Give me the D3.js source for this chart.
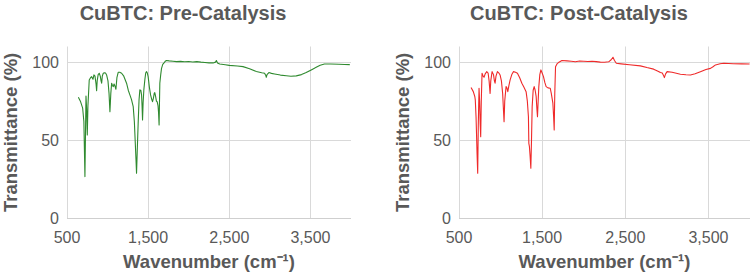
<!DOCTYPE html>
<html>
<head>
<meta charset="utf-8">
<script src="https://cdn.jsdelivr.net/npm/d3@7"></script>
<style>
  body { margin: 0; background: #fff; }
  svg { display: block; }
</style>
</head>
<body>
<div id="chart"></div>
<script>
'use strict'

// ---- data ----
const xTicks = [500, 1500, 2500, 3500]
const yTicks = [0, 50, 100]
const titles = ['CuBTC: Pre-Catalysis', 'CuBTC: Post-Catalysis']

const wnPre = [640,665,693,708,721,728,734,742,750,758,774,790,804,820,832,845,858,865,872,884,897,910,920,927,935,947,960,975,988,1005,1018,1029,1040,1050,1060,1070,1080,1092,1103,1115,1131,1150,1173,1200,1234,1255,1275,1295,1316,1330,1340,1350,1357,1365,1377,1388,1398,1410,1419,1425,1431,1438,1447,1460,1470,1480,1490,1500,1515,1530,1545,1554,1565,1575,1582,1592,1602,1611,1622,1628,1635,1640,1644,1655,1665,1680,1693,1710,1726,1760,1807,1850,1900,1950,2000,2050,2100,2150,2200,2250,2300,2330,2341,2355,2382,2450,2500,2600,2669,2750,2833,2900,2935,2950,2956,2965,2988,3020,3058,3130,3202,3260,3325,3390,3448,3510,3571,3620,3673,3750,3850,3920,3985]
const tPre = [77.5,75,70.5,62,26.7,55,78.3,70,53.4,72,88.6,90,90.7,89,91.8,91,86,81.7,88,92,92.9,91,88,86.5,91,92.9,93.2,93,91.8,88,80,68.3,80,86.5,85,84.3,86,84.5,82.6,90,93.5,93.5,92.9,91,86.5,82,79,76,71.5,62,50,38,28.8,42,60.9,76,82.2,82,79,72,63,74,82.2,89,93,93.9,93,90.7,84,79,76,74.7,77,80,80.5,78,75,74.7,72,68,59.8,75,86.5,92,96,98.5,99.3,100.5,101,100.8,100.6,100.3,100.5,100.2,100.4,100.1,100.3,100,99.8,99.5,99.5,100,101,99.5,98.8,98.3,97.9,97.5,97.1,95.8,94,93.2,92.9,91.5,90.3,92,93.3,92.8,92.4,91.7,91.3,91,91.2,92,93.3,95,96.7,98,98.8,98.8,98.6,98.5,98.4]

const wnPost = [645,672,690,696,705,718,725,732,741,748,755,761,768,777,790,801,815,834,850,862,874,882,898,915,926,934,945,962,980,994,1010,1025,1036,1042,1050,1066,1076,1087,1100,1115,1135,1154,1180,1203,1230,1256,1280,1307,1322,1335,1340,1347,1355,1364,1372,1380,1392,1404,1416,1428,1437,1444,1452,1460,1472,1485,1500,1516,1532,1548,1570,1597,1610,1629,1638,1645,1652,1661,1680,1697,1738,1800,1850,1900,1950,2000,2050,2100,2150,2200,2250,2300,2330,2352,2370,2392,2450,2550,2681,2760,2841,2900,2922,2945,2960,2970,2985,3003,3063,3163,3230,3284,3340,3404,3470,3525,3555,3585,3640,3685,3800,3900,3995]
const tPost = [83.7,81.1,78,75.8,65,40,28.8,60,83.3,75,60,52.3,75,92.9,91,90.3,92.5,93.9,93,88,80,88,93.9,92,88,86.5,91,93.9,93,91.8,88,80,68,61.9,75,84.3,83.5,81.1,85,88.6,92,93.9,93.5,92.9,90,86.5,84,81.1,75,65,48,45.9,40,32,50,71.5,82,84.3,82,77.9,70,65,75,84.3,92,95,93,90.7,87,84.3,83.5,83.3,80,73.7,65,56.6,80,97.1,99,99.7,101,100.8,100.6,100.2,100.7,100.6,100.4,100.6,100.3,100,99.9,100.2,101.5,103.1,101,99.3,98.9,98.3,97.6,96.5,95.5,94,93.3,93,91.5,90.1,92.5,93.9,93.5,92.2,91.9,91.8,92.5,93.9,95.3,96,97,98.2,99,99.3,99,98.9,98.8]

const font = '"Liberation Sans", Arial, sans-serif'
const textColor = '#595959'
const gridColor = '#d9d9d9'

const svg = d3.select('#chart').append('svg')
    .attr('width', 754)
    .attr('height', 277)
    .attr('font-family', font)

svg.append('rect').attr('width', 754).attr('height', 277).attr('fill', '#fff')

// one panel per spectrum
function drawPanel(p) {
    const x = d3.scaleLinear().domain([500, 4000]).range([p.left, p.right])
    const y = d3.scaleLinear().domain([0, 110]).range([218.3, 46.5])

    const g = svg.append('g')

    // gridlines
    g.append('g')
      .selectAll('line')
      .data(yTicks.filter(d => d > 0))
      .join('line')
        .attr('x1', p.left).attr('x2', p.right)
        .attr('y1', d => Math.round(y(d)) + 0.5).attr('y2', d => Math.round(y(d)) + 0.5)
        .attr('stroke', gridColor)

    g.append('g')
      .selectAll('line')
      .data(xTicks)
      .join('line')
        .attr('x1', d => Math.round(x(d)) + 0.5).attr('x2', d => Math.round(x(d)) + 0.5)
        .attr('y1', y(110)).attr('y2', y(0))
        .attr('stroke', gridColor)

    // bottom axis line
    g.append('line')
        .attr('x1', p.left).attr('x2', p.right)
        .attr('y1', Math.round(y(0)) + 0.5).attr('y2', Math.round(y(0)) + 0.5)
        .attr('stroke', '#cfcfcf')

    // tick labels
    g.append('g')
      .selectAll('text')
      .data(xTicks)
      .join('text')
        .attr('x', d => x(d))
        .attr('y', 243)
        .attr('text-anchor', 'middle')
        .attr('font-size', 16)
        .attr('fill', textColor)
        .text(d => d3.format(',')(d))

    g.append('g')
      .selectAll('text')
      .data(yTicks)
      .join('text')
        .attr('x', p.left - 8)
        .attr('y', d => y(d))
        .attr('dy', '0.35em')
        .attr('text-anchor', 'end')
        .attr('font-size', 16)
        .attr('fill', textColor)
        .text(d => d)

    // spectrum
    const pts = d3.zip(p.wn, p.t)
    g.append('path')
        .datum(pts)
        .attr('fill', 'none')
        .attr('stroke', p.color)
        .attr('stroke-width', 1.1)
        .attr('stroke-linejoin', 'round')
        .attr('d', d3.line().x(d => x(d[0])).y(d => y(d[1])))

    // titles
    g.append('text')
        .attr('x', p.titleX).attr('y', 20)
        .attr('text-anchor', 'middle')
        .attr('font-size', 20)
        .attr('font-weight', 'bold')
        .attr('fill', textColor)
        .text(p.title)

    g.append('text')
        .attr('x', (p.left + p.right) / 2).attr('y', 268)
        .attr('text-anchor', 'middle')
        .attr('font-size', 18.5)
        .attr('font-weight', 'bold')
        .attr('fill', textColor)
        .text('Wavenumber (cm\u207B\u00B9)')

    g.append('text')
        .attr('transform', `translate(${p.left - 50},${(y(0) + y(110)) / 2}) rotate(-90)`)
        .attr('text-anchor', 'middle')
        .attr('font-size', 18.5)
        .attr('font-weight', 'bold')
        .attr('fill', textColor)
        .text('Transmittance (%)')
}

drawPanel({left: 67, right: 351, titleX: 183, title: titles[0], wn: wnPre, t: tPre, color: '#2f8a2f'})
drawPanel({left: 459, right: 750, titleX: 579, title: titles[1], wn: wnPost, t: tPost, color: '#ef2a2a'})
</script>
</body>
</html>
